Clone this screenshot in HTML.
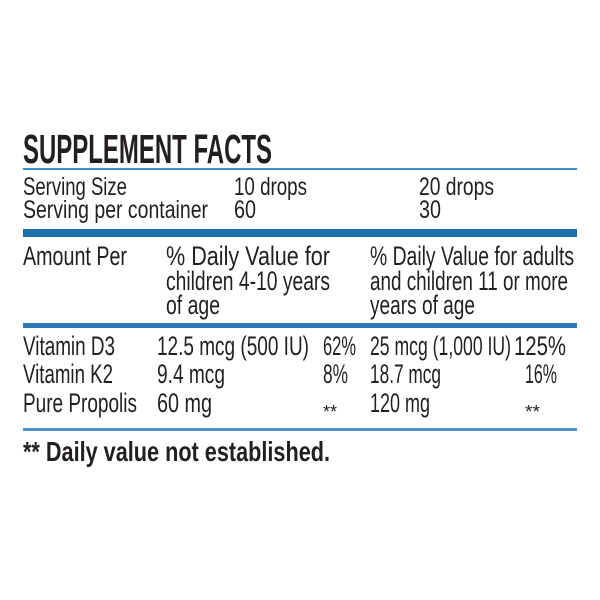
<!DOCTYPE html>
<html><head><meta charset="utf-8"><style>
html,body{margin:0;padding:0;background:#fff}
svg{display:block}
text{font-family:"Liberation Sans",sans-serif;fill:#231f20}
.r{font-size:25px}
.d{font-size:27px}
.b{font-weight:bold}
</style></head><body>
<svg width="600" height="600" viewBox="0 0 600 600" xmlns="http://www.w3.org/2000/svg">
<rect width="600" height="600" fill="#fff"/>
<text class="b" x="23" y="163" font-size="41" textLength="249" lengthAdjust="spacingAndGlyphs">SUPPLEMENT FACTS</text>
<rect x="23" y="168" width="554" height="2" fill="#3a8cc6"/>
<g class="r">
<text x="23" y="195" textLength="104" lengthAdjust="spacingAndGlyphs">Serving Size</text>
<text x="234" y="195" textLength="73" lengthAdjust="spacingAndGlyphs">10 drops</text>
<text x="419" y="195" textLength="75" lengthAdjust="spacingAndGlyphs">20 drops</text>
<text x="23" y="218" textLength="185" lengthAdjust="spacingAndGlyphs">Serving per container</text>
<text x="234" y="218" textLength="22" lengthAdjust="spacingAndGlyphs">60</text>
<text x="419" y="218" textLength="22" lengthAdjust="spacingAndGlyphs">30</text>
</g>
<rect x="23" y="229" width="554" height="8" fill="#1f70ae"/>
<g class="d">
<text x="23" y="265" textLength="104" lengthAdjust="spacingAndGlyphs">Amount Per</text>
<text x="166" y="265" textLength="164" lengthAdjust="spacingAndGlyphs">% Daily Value for</text>
<text x="166" y="290" textLength="164" lengthAdjust="spacingAndGlyphs">children 4-10 years</text>
<text x="166" y="314" textLength="54" lengthAdjust="spacingAndGlyphs">of age</text>
<text x="370" y="265" textLength="204" lengthAdjust="spacingAndGlyphs">% Daily Value for adults</text>
<text x="370" y="290" textLength="198" lengthAdjust="spacingAndGlyphs">and children 11 or more</text>
<text x="370" y="314" textLength="105" lengthAdjust="spacingAndGlyphs">years of age</text>
</g>
<rect x="23" y="323" width="554" height="5" fill="#2a7bb8"/>
<g class="d">
<text x="23" y="355" textLength="92" lengthAdjust="spacingAndGlyphs">Vitamin D3</text>
<text x="157" y="355" textLength="152" lengthAdjust="spacingAndGlyphs">12.5 mcg (500 IU)</text>
<text x="323" y="355" textLength="33" lengthAdjust="spacingAndGlyphs">62%</text>
<text x="370" y="355" textLength="141" lengthAdjust="spacingAndGlyphs">25 mcg (1,000 IU)</text>
<text x="514" y="355" textLength="52" lengthAdjust="spacingAndGlyphs">125%</text>
<text x="23" y="383" textLength="90" lengthAdjust="spacingAndGlyphs">Vitamin K2</text>
<text x="157" y="383" textLength="68" lengthAdjust="spacingAndGlyphs">9.4 mcg</text>
<text x="323" y="383" textLength="25" lengthAdjust="spacingAndGlyphs">8%</text>
<text x="370" y="383" textLength="71" lengthAdjust="spacingAndGlyphs">18.7 mcg</text>
<text x="525" y="383" textLength="32" lengthAdjust="spacingAndGlyphs">16%</text>
<text x="23" y="412" textLength="114" lengthAdjust="spacingAndGlyphs">Pure Propolis</text>
<text x="157" y="412" textLength="55" lengthAdjust="spacingAndGlyphs">60 mg</text>
<text x="323" y="418" font-size="18" textLength="14" lengthAdjust="spacingAndGlyphs">**</text>
<text x="370" y="412" textLength="60" lengthAdjust="spacingAndGlyphs">120 mg</text>
<text x="525" y="418" font-size="18" textLength="15" lengthAdjust="spacingAndGlyphs">**</text>
</g>
<rect x="23" y="428" width="554" height="3" fill="#4a94cc"/>
<text class="b" x="23" y="461" font-size="28" textLength="307" lengthAdjust="spacingAndGlyphs">** Daily value not established.</text>
</svg>
</body></html>
